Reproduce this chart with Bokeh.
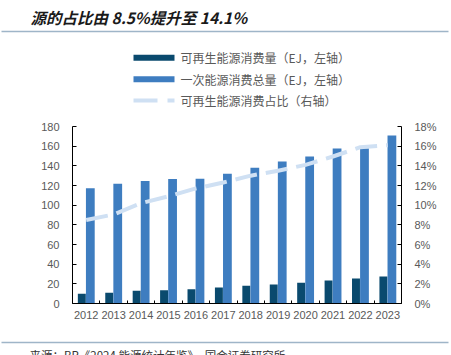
from bokeh.plotting import figure
from bokeh.layouts import column
from bokeh.models import (Range1d, LinearAxis, FixedTicker, SingleIntervalTicker,
                          NumeralTickFormatter, BasicTickFormatter)
from bokeh.transform import dodge
from bokeh.core.properties import value
from bokeh.embed import file_html
from bokeh.resources import INLINE

# ---------------- data ----------------
years = [2012, 2013, 2014, 2015, 2016, 2017, 2018, 2019, 2020, 2021, 2022, 2023]
renewable = [9.9, 10.9, 12.9, 13.6, 14.6, 16.3, 18.0, 19.3, 21.0, 23.4, 25.4, 27.5]
primary_total = [117.3, 121.7, 124.7, 126.5, 126.8, 131.9, 138.0, 144.4, 149.5, 157.7, 158.0, 170.9]
renew_share = [0.085, 0.0905, 0.102, 0.109, 0.117, 0.123, 0.130, 0.135, 0.141, 0.1495, 0.159, 0.161]

title_text = "源的占比由 8.5%提升至 14.1%"
legend_labels = ["可再生能源消费量（EJ，左轴）",
                 "一次能源消费总量（EJ，左轴）",
                 "可再生能源消费占比（右轴）"]
source_text = "来源：BP《2024 能源统计年鉴》，国金证券研究所"

C_DARK = "#0a4a6e"
C_BLUE = "#3e7dc0"
C_LIGHT = "#cfe0f3"
C_RULE = "#9fb5c8"
C_TXT = "#595959"
W = 451
CJK = value("Noto Sans CJK SC")


def blank(height):
    f = figure(width=W, height=height, x_range=Range1d(0, W), y_range=Range1d(height, 0),
               output_backend="svg", toolbar_location=None, frame_align=False,
               min_border=0, x_axis_location=None, y_axis_location=None,
               outline_line_color=None)
    f.grid.visible = False
    return f


# ---------------- header (title + legend) ----------------
HH = 116
hdr = blank(HH)
hdr.text(x=[30], y=[16], text=[title_text], text_baseline="middle", text_align="left",
         text_font=CJK, text_font_style="bold italic", text_font_size="15.5px",
         text_color="#1a1a1a")
hdr.rect(x=[224.5], y=[31], width=[447], height=[1.5], fill_color=C_RULE, line_color=None)

lx0, lx1, lxt = 133, 174, 180
rows = [57.3, 78.7, 100.0]
hdr.line(x=[lx0, lx1], y=[rows[0], rows[0]], line_color=C_DARK, line_width=6)
hdr.line(x=[lx0, lx1], y=[rows[1], rows[1]], line_color=C_BLUE, line_width=6)
hdr.line(x=[lx0, lx1], y=[rows[2], rows[2]], line_color=C_LIGHT, line_width=4,
         line_dash="24 10")
hdr.text(x=[lxt] * 3, y=rows, text=legend_labels, text_baseline="middle",
         text_align="left", text_font=CJK, text_font_size="12px", text_color=C_TXT)

# ---------------- main chart ----------------
p = figure(width=W, height=211, x_range=Range1d(2011.5, 2023.5), y_range=Range1d(0, 180),
           output_backend="svg", toolbar_location=None, frame_align=False,
           min_border_left=72, min_border_right=50, min_border_top=10, min_border_bottom=24,
           outline_line_color=None)
p.grid.visible = False
p.extra_y_ranges = {"pct": Range1d(0, 0.18)}

src = dict(year=years, renewable=renewable, total=primary_total)
p.vbar(x=dodge("year", -0.16), top="renewable", width=0.29, source=src,
       fill_color=C_DARK, line_color=None)
p.vbar(x=dodge("year", 0.15), top="total", width=0.32, source=src,
       fill_color=C_BLUE, line_color=None)
p.line(x=years, y=renew_share, y_range_name="pct", line_color=C_LIGHT,
       line_width=4, line_dash="22 9")

xa = p.xaxis[0]
xa.ticker = FixedTicker(ticks=years, minor_ticks=[y - 0.5 for y in years] + [years[-1] + 0.5])
xa.formatter = BasicTickFormatter(use_scientific=False)
xa.major_tick_in = 0
xa.major_tick_out = 0
xa.minor_tick_in = 3
xa.minor_tick_out = 0
xa.minor_tick_line_color = "black"
xa.major_label_standoff = 7

ya = p.yaxis[0]
ya.ticker = SingleIntervalTicker(interval=20)
ya.major_tick_in = 4
ya.major_tick_out = 0
ya.minor_tick_line_color = None
ya.major_label_standoff = 9

yr = LinearAxis(y_range_name="pct", ticker=SingleIntervalTicker(interval=0.02),
                formatter=NumeralTickFormatter(format="0%"))
yr.major_tick_in = 4
yr.major_tick_out = 0
yr.minor_tick_line_color = None
yr.major_label_standoff = 9
p.add_layout(yr, "right")

for ax in (xa, ya, yr):
    ax.axis_line_color = "black"
    ax.major_tick_line_color = "black"
    ax.major_label_text_font = "Liberation Sans"
    ax.major_label_text_font_size = "11px"
    ax.major_label_text_color = C_TXT

# ---------------- footer ----------------
FH = 28
ftr = blank(FH)
ftr.line(x=[1, 448], y=[15, 15], line_color=C_RULE, line_width=1.5)
ftr.text(x=[29], y=[19], text=[source_text], text_baseline="top", text_align="left",
         text_font=CJK, text_font_size="11.5px", text_color="#333333")

layout = column(hdr, p, ftr, spacing=0)
open("out.html", "w").write(file_html(layout, INLINE))
